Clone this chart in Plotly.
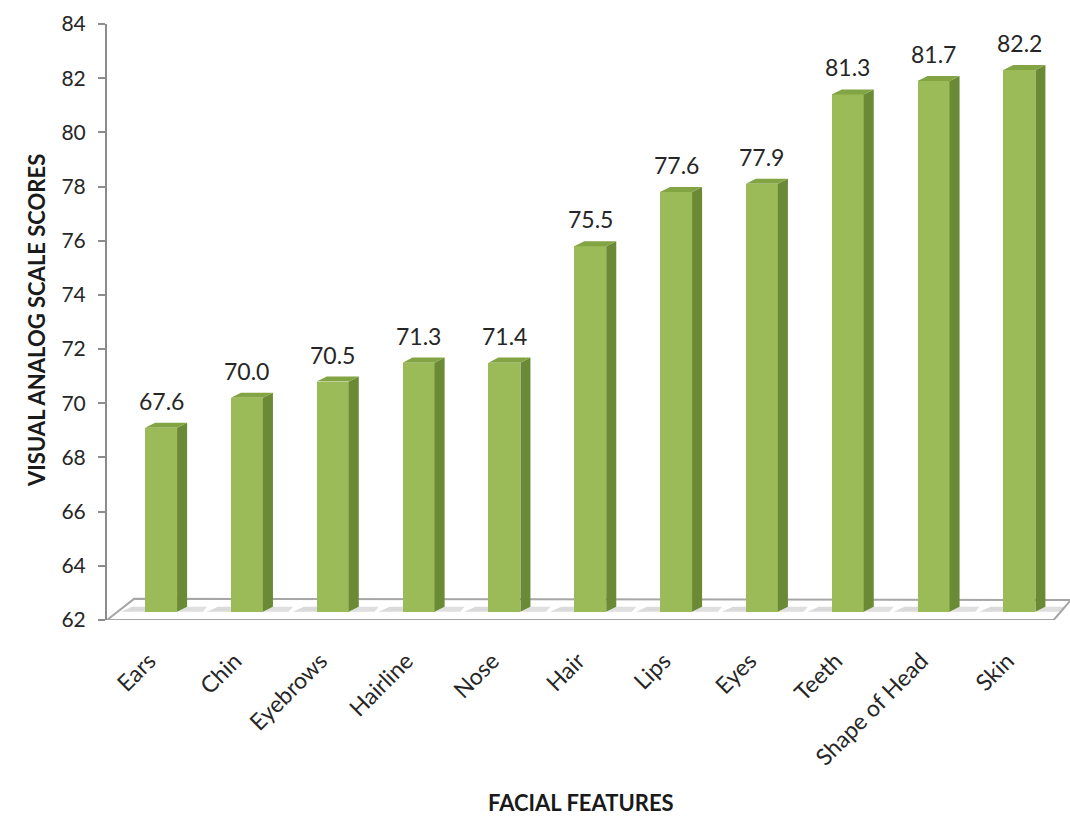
import plotly.graph_objects as go

# ---- data ----
features = ["Ears", "Chin", "Eyebrows", "Hairline", "Nose", "Hair", "Lips",
            "Eyes", "Teeth", "Shape of Head", "Skin"]
bar_heights = [69.1, 70.2, 70.8, 71.5, 71.5, 75.8, 77.8, 78.1, 81.4, 81.9, 82.3]
value_labels = ["67.6", "70.0", "70.5", "71.3", "71.4", "75.5", "77.6",
                "77.9", "81.3", "81.7", "82.2"]
y_ticks = [62, 64, 66, 68, 70, 72, 74, 76, 78, 80, 82, 84]

# ---- styling / geometry ----
FONT = "Lato"
FRONT = "#9bbb59"
SIDE = "#6b8a35"
TOP = "#82a443"
BASE = 62.3          # level where bars stand on the floor
BW = 0.373           # front face width (category units)
DX, DY = 0.117, 0.185  # depth offset of 3D faces
xs = list(range(len(features)))

fig = go.Figure()

shapes = []
# floor
shapes.append(dict(type="path", xref="x", yref="y",
                   path="M -0.63 62 L 10.4 62 L 10.6 62.74 L -0.315 62.78 Z",
                   fillcolor="white", line=dict(color="#a6a6a6", width=2),
                   layer="below"))

# front faces
fig.add_trace(go.Bar(x=xs, y=[h - BASE for h in bar_heights], base=BASE,
                     width=BW, marker=dict(color=FRONT, line=dict(width=0)),
                     hoverinfo="skip", showlegend=False))

for i, h in zip(xs, bar_heights):
    r = i + BW / 2
    l = i - BW / 2
    # floor shadow
    shapes.append(dict(type="path", xref="x", yref="y",
                       path=f"M {l-0.28} {BASE} L {l} {BASE} L {l+DX} {BASE+DY} L {l-0.15} {BASE+DY} Z",
                       fillcolor="rgba(150,150,150,0.35)", line=dict(width=0), layer="below"))
    shapes.append(dict(type="path", xref="x", yref="y",
                       path=f"M {r} {BASE} L {r+0.3} {BASE} L {r+0.35} {BASE+DY} L {r+DX} {BASE+DY} Z",
                       fillcolor="rgba(150,150,150,0.3)", line=dict(width=0), layer="below"))
    # side face
    shapes.append(dict(type="path", xref="x", yref="y",
                       path=f"M {r} {BASE} L {r+DX} {BASE+DY} L {r+DX} {h+DY} L {r} {h} Z",
                       fillcolor=SIDE, line=dict(width=0)))
    # top face
    shapes.append(dict(type="path", xref="x", yref="y",
                       path=f"M {l} {h} L {r} {h} L {r+DX} {h+DY} L {l+DX} {h+DY} Z",
                       fillcolor=TOP, line=dict(width=0)))

annotations = []
for i, h, t in zip(xs, bar_heights, value_labels):
    annotations.append(dict(x=i, y=h, text=t, showarrow=False, yshift=27,
                            xanchor="center", yanchor="middle",
                            font=dict(family=FONT, size=23, color="#262626")))

annotations.append(dict(xref="paper", yref="paper", x=-0.074, y=0.503,
                        text="<b>VISUAL ANALOG SCALE SCORES</b>", textangle=-90,
                        showarrow=False, xanchor="center", yanchor="middle",
                        font=dict(family=FONT, size=22, color="#1a1a1a")))
annotations.append(dict(xref="paper", yref="paper", x=0.492, y=-0.3322,
                        text="<b>FACIAL FEATURES</b>",
                        showarrow=False, xanchor="center", yanchor="bottom",
                        font=dict(family=FONT, size=22, color="#1a1a1a")))

fig.update_layout(
    width=1070, height=818,
    margin=dict(l=107, r=0, t=24, b=198),
    paper_bgcolor="white", plot_bgcolor="white",
    bargap=0, shapes=shapes, annotations=annotations,
    showlegend=False,
)
fig.update_xaxes(range=[-0.63, 10.59], tickmode="array", tickvals=xs,
                 ticktext=features, tickangle=-45, showline=False,
                 showgrid=False, zeroline=False, ticks="",
                 ticklabelstandoff=22, ticklabelshift=-12,
                 tickfont=dict(family=FONT, size=23, color="#262626"))
fig.update_yaxes(range=[62, 84], tickmode="array", tickvals=y_ticks,
                 showline=True, linecolor="#8c8c8c", linewidth=2,
                 ticks="outside", ticklen=7, tickcolor="#8c8c8c", tickwidth=2,
                 showgrid=False, zeroline=False, ticklabelstandoff=8,
                 tickfont=dict(family=FONT, size=21, color="#262626"))

fig.write_html("out.html")
